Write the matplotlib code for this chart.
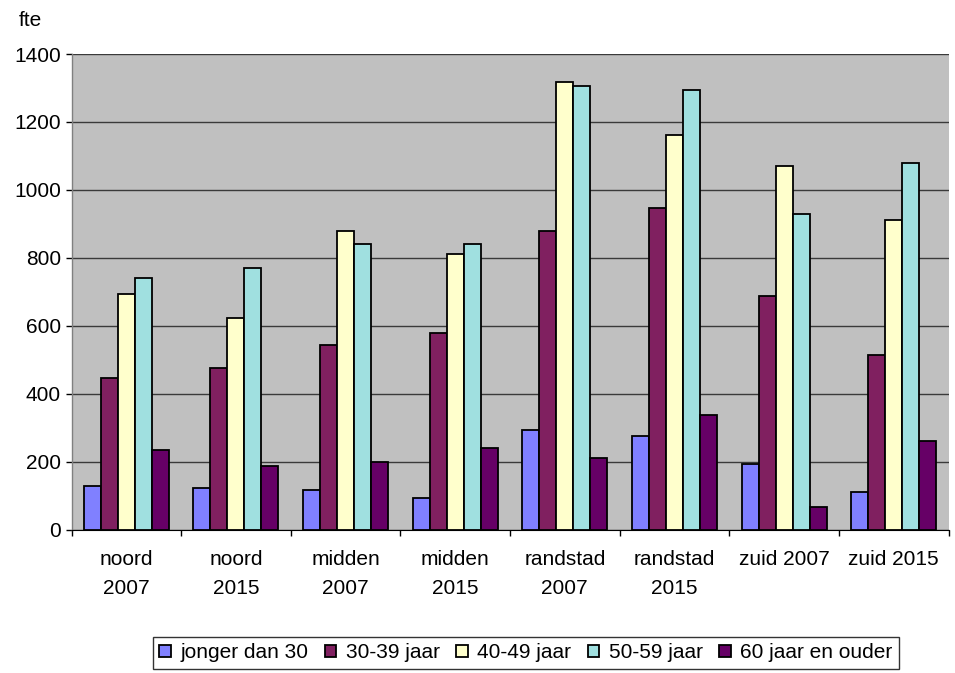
import matplotlib
matplotlib.use("Agg")
import matplotlib.pyplot as plt
import numpy as np

plt.rcParams['font.family'] = ['Liberation Sans', 'DejaVu Sans']

categories = ["noord\n2007", "noord\n2015", "midden\n2007", "midden\n2015",
              "randstad\n2007", "randstad\n2015", "zuid 2007", "zuid 2015"]
series_names = ["jonger dan 30", "30-39 jaar", "40-49 jaar", "50-59 jaar", "60 jaar en ouder"]

jonger_dan_30 = [128, 122, 117, 92, 292, 275, 193, 110]
jaar_30_39 = [447, 475, 545, 580, 880, 948, 688, 515]
jaar_40_49 = [693, 622, 880, 810, 1318, 1162, 1070, 910]
jaar_50_59 = [740, 770, 840, 840, 1305, 1293, 928, 1080]
jaar_60_plus = [235, 188, 198, 240, 210, 338, 68, 262]

series = [jonger_dan_30, jaar_30_39, jaar_40_49, jaar_50_59, jaar_60_plus]
colors = ["#8080FF", "#802060", "#FFFFCC", "#A0E0E0", "#660066"]

FS = 15
W, H = 955, 673
fig = plt.figure(figsize=(W / 100, H / 100), dpi=100)
left, right, top, bottom = 71.5, 948.5, 54, 529.7
ax = fig.add_axes([left / W, 1 - bottom / H, (right - left) / W, (bottom - top) / H])
ax.set_facecolor("#C0C0C0")

n = len(categories)
x = np.arange(n)
bw = 0.155
offsets = (np.arange(5) - 2) * bw
for vals, col, off, name in zip(series, colors, offsets, series_names):
    ax.bar(x + off, vals, width=bw, color=col, edgecolor="black", linewidth=1.3,
           label=name, zorder=3)

ax.set_xlim(-0.5, n - 0.5)
ax.set_ylim(0, 1400)
ax.set_yticks(np.arange(0, 1401, 200))
ax.yaxis.grid(True, color="#3a3a3a", linewidth=1.0, zorder=1)
ax.set_axisbelow(True)

ax.set_xticks(np.arange(-0.5, n, 1.0))
ax.set_xticklabels([])
ax.set_xticks(x, minor=True)
ax.set_xticklabels(categories, minor=True, fontsize=FS, linespacing=1.65)
ax.tick_params(axis='x', which='minor', length=0, pad=14.5)
ax.tick_params(axis='x', which='major', length=4.5, width=1, color="black", direction='out')
ax.tick_params(axis='y', length=4.5, width=1, direction='out', labelsize=FS, pad=3)

for s in ["top", "right"]:
    ax.spines[s].set_visible(False)
ax.spines["left"].set_color("#808080")
ax.spines["bottom"].set_color("black")
ax.spines["left"].set_linewidth(1)

fig.text(30 / W, 1 - 21 / H, "fte", fontsize=FS, ha="center", va="center")

leg = fig.legend(loc="center", bbox_to_anchor=(526 / W, 1 - 653 / H), ncol=5,
                 fontsize=FS, frameon=True, fancybox=False, edgecolor="black",
                 handlelength=0.55, handleheight=0.55, handletextpad=0.45,
                 columnspacing=0.8, borderpad=0.3, borderaxespad=0)
leg.get_frame().set_linewidth(1)

fig.savefig("out.png", dpi=100)
